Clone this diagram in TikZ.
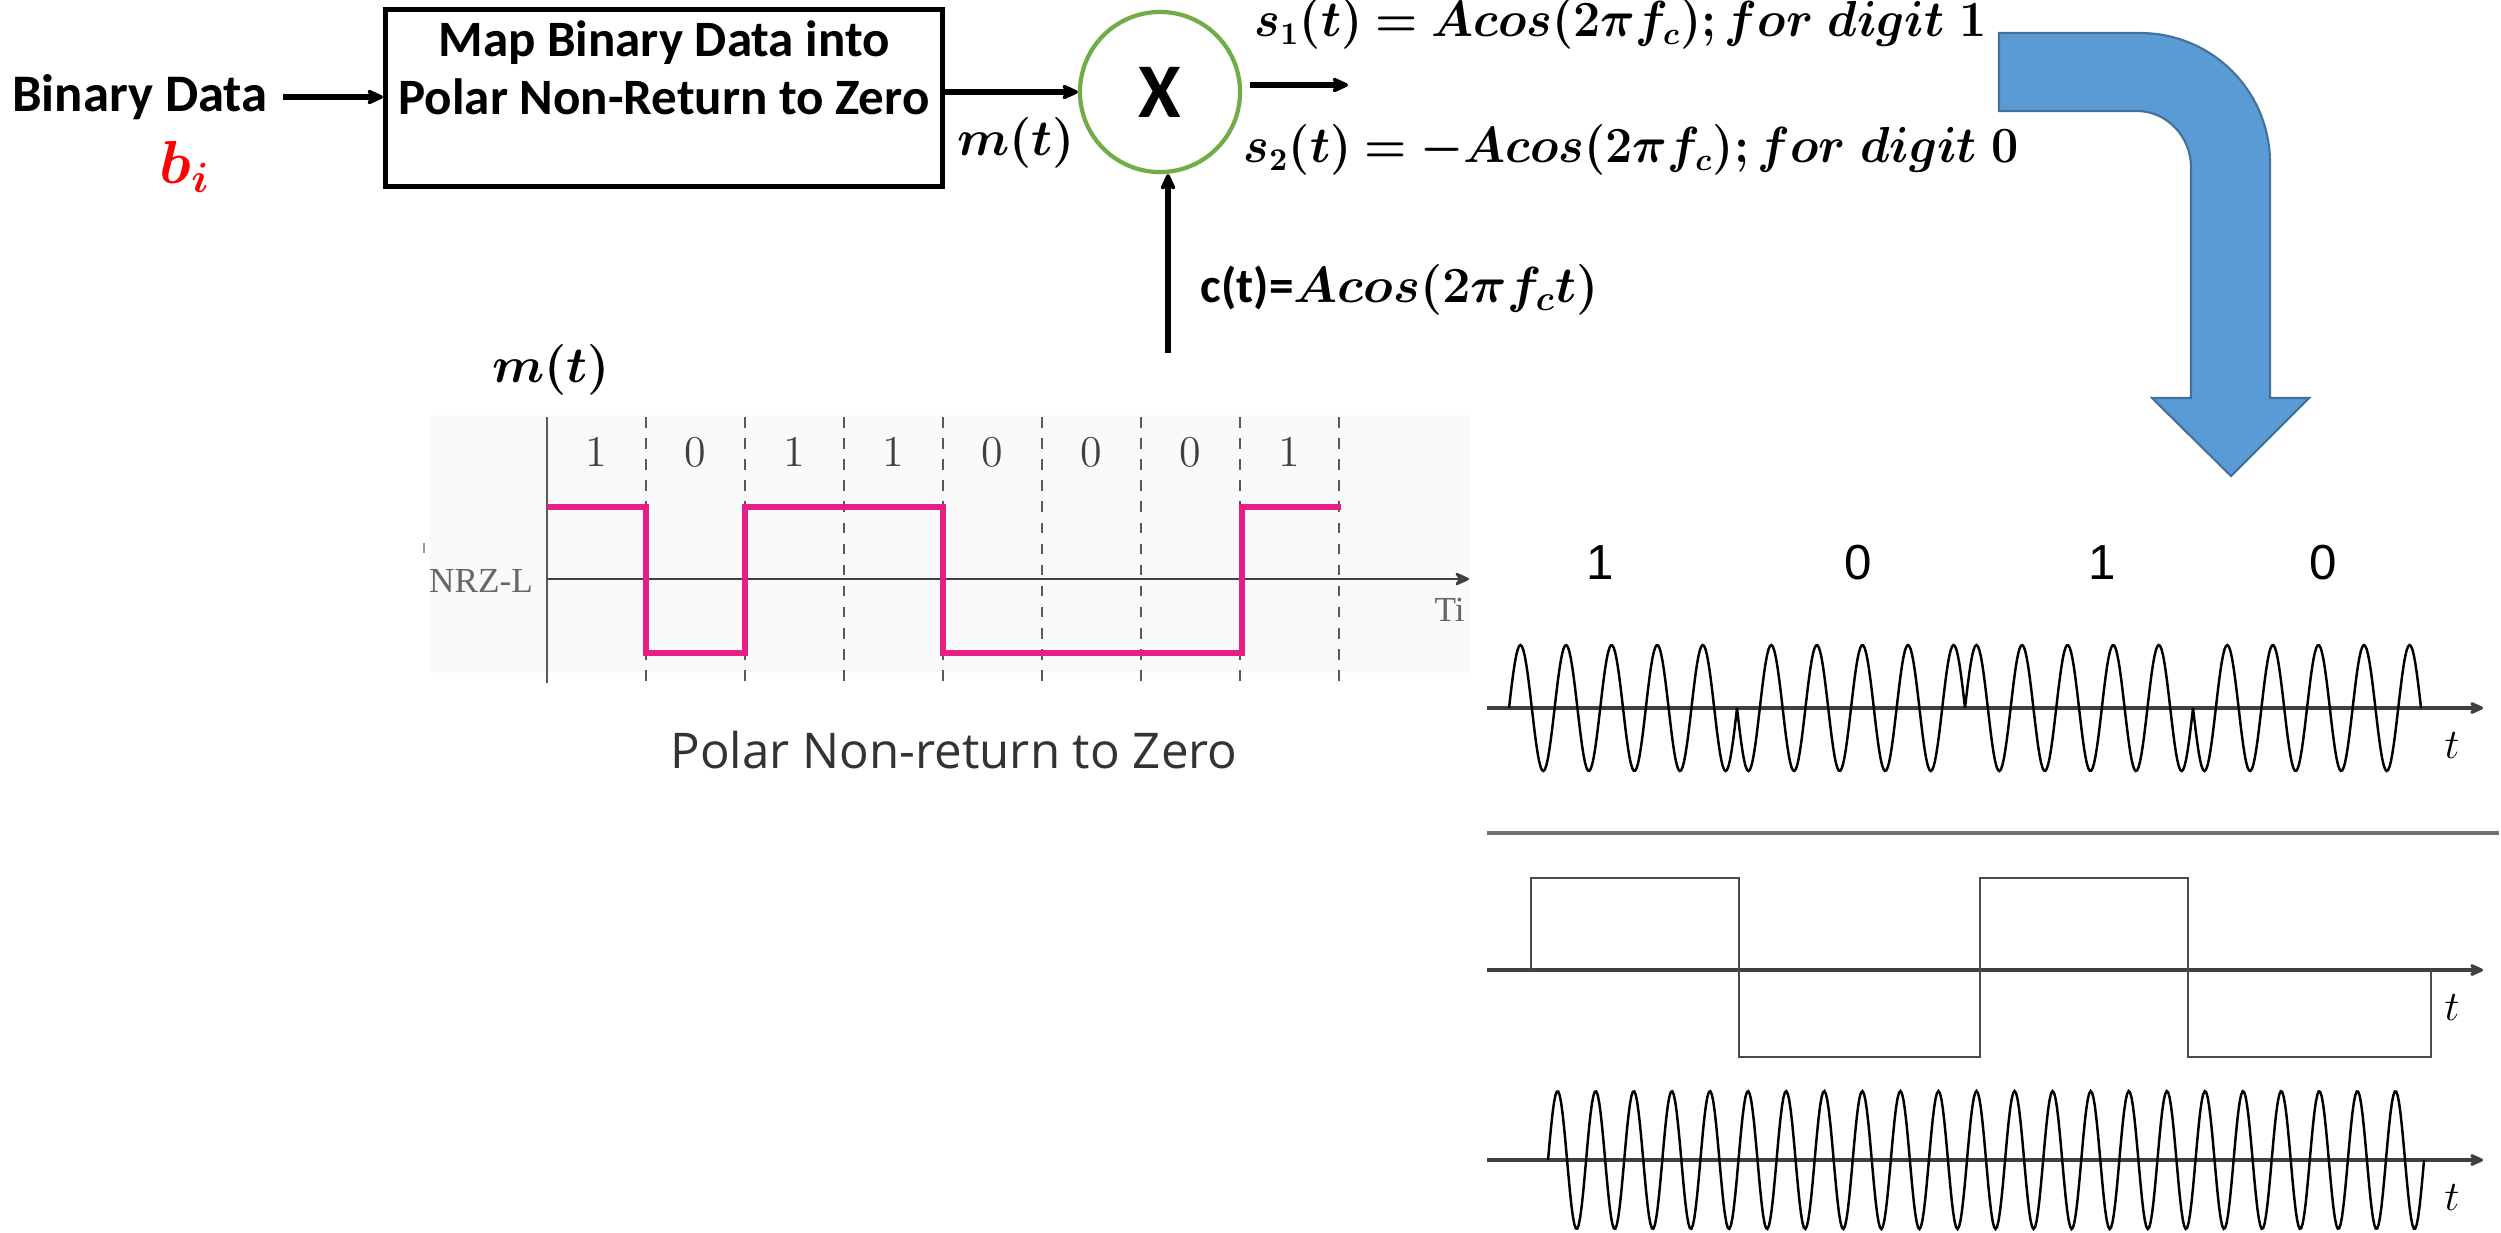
\documentclass[tikz,border=0pt]{standalone}
\usepackage{amsmath}
\usepackage{bm}
\usepackage{fontspec}
\usepackage{xcolor}
\usetikzlibrary{positioning, arrows.meta}

\newfontfamily\calibri{Carlito}
\newfontfamily\arialfont{Liberation Sans}
\newfontfamily\timesfont{Liberation Serif}
\newfontfamily\opensans{Open Sans}

\definecolor{mixgreen}{HTML}{70AD47}
\definecolor{nrzpink}{HTML}{E91E84}
\definecolor{bendblue}{HTML}{5B9BD5}
\definecolor{bendedge}{HTML}{41719C}

\begin{document}
\begin{tikzpicture}[
    x=0.01cm, y=-0.01cm,
    >={Stealth[round, length=5pt, width=4.5pt]},
    every node/.style={inner sep=0pt},
    block/.style={draw, line width=1.4pt, minimum width=5.57cm, minimum height=1.77cm},
    mixer/.style={circle, draw=mixgreen, line width=1.2pt, minimum size=1.6cm,
      font=\calibri\bfseries\fontsize{22}{24}\selectfont},
    heading/.style={font=\calibri\bfseries\fontsize{15}{16}\selectfont, align=center},
    eqn/.style={font=\fontsize{13.5}{16}\selectfont},
    link/.style={-{Stealth[round, length=6pt, width=5.5pt]}, line width=1.6pt},
    axis/.style={->, line width=0.9pt, black!75},
    wave/.style={line width=0.7pt},
    bit/.style={font=\fontsize{12.5}{14}\selectfont, text=black!75},
    pskbit/.style={font=\arialfont\fontsize{14}{16}\selectfont},
    tlabel/.style={font=\fontsize{12}{14}\selectfont},
  ]
  \useasboundingbox (0,0) rectangle (2501,1232);

  % block diagram
  \node[heading] (bin) at (140,97) {Binary Data};
  \node[font=\fontsize{18}{20}\selectfont, text=red] (bi) at (185,167) {$\bm{b_i}$};
  \node[block] (box) at (664,98) {};
  \node[heading, below=0.13cm of box.north, font=\calibri\bfseries\fontsize{14.5}{16.5}\selectfont]
    (boxtxt) {Map Binary Data into\\Polar Non-Return to Zero};
  \node[mixer] (mix) at (1160,92) {X};
  \node[eqn] (mlabel) at (1016,143) {$\bm{m(t)}$};
  \node[eqn, anchor=west, xscale=0.955, transform shape] (sone) at (1254,24)
    {$\bm{s_1(t) = Acos(2\pi f_c); for\ digit\ 1}$};
  \node[eqn, anchor=west, xscale=0.955, transform shape] (stwo) at (1243,150)
    {$\bm{s_2(t) = -Acos(2\pi f_c); for\ digit\ 0}$};
  \node[anchor=west, font=\fontsize{14}{16}\selectfont] (ct) at (1200,290)
    {{\calibri\bfseries c(t)=}$\bm{Acos(2\pi f_c t)}$};
  \coordinate (sout) at (1348,85);
  \coordinate (ctail) at (1168,353);

  \draw[link] ([xshift=0.15cm]bin.east) -- (bin -| box.west);
  \draw[link] (box.east |- mix) -- (mix);
  \draw[link] (ctail) -- (ctail |- mix.south);
  \draw[link] ([xshift=0.08cm]mix.east |- sout) -- (sout);

  % polar NRZ plot
  \fill[black!2] (430,415) rectangle (1469,673);
  \node[eqn] (mplot) at (551,370) {$\bm{m(t)}$};
  \draw[black!65, line width=0.7pt] (547,417) -- (547,683);
  \draw[axis, line width=0.7pt] (547,579) -- (1469,579);
  \foreach \x in {646,745,...,1341}
    \draw[dashed, black!65, line width=0.5pt] (\x,417) -- (\x,683);
  \foreach \b [count=\i from 0] in {1,0,1,1,0,0,0,1}
    \node[bit] (nrzbit\i) at (596+99*\i,452) {\b};
  \draw[nrzpink, line width=1.7pt] (547,507) -- (646,507) -- (646,653) -- (745,653)
    -- (745,507) -- (943,507) -- (943,653) -- (1242,653) -- (1242,507) -- (1341,507);
  \draw[black!40, line width=0.4pt] (424,543) -- (424,553);
  \node[font=\timesfont\fontsize{10}{11}\selectfont, text=black!60] (nrz) at (481,581) {NRZ-L};
  \node[anchor=west, font=\timesfont\fontsize{10}{11}\selectfont, text=black!60] (ti) at (1434,610) {Ti};
  \node[font=\opensans\fontsize{14}{16}\selectfont, text=black!80] (caption) at (954,750)
    {Polar Non-return to Zero};

  % bent arrow
  \filldraw[fill=bendblue, draw=bendedge, line width=0.6pt]
    (1999,33) -- (2140,33) .. controls (2212,33) and (2270,91) .. (2270,163)
    -- (2270,398) -- (2309,398) -- (2231,476) -- (2152,398) -- (2191,398)
    -- (2191,167) .. controls (2191,137) and (2167,111) .. (2137,111)
    -- (1999,111) -- cycle;

  % BPSK signal
  \foreach \b/\x [count=\i] in {1/1600,0/1858,1/2102,0/2323}
    \node[pskbit] (pskbit\i) at (\x,563) {\b};
  \draw[axis] (1487,708) -- (2483,708);
  \foreach \s [count=\k from 0] in {1,-1,1,-1}
    \draw[wave] plot[domain=0:228, samples=160] ({1509+228*\k+\x}, {708-63*\s*sin(\x/228*1800)});
  \node[tlabel] (tone) at (2452,745) {$t$};

  \draw[black!55, line width=1pt] (1487,833) -- (2499,833);

  % bipolar data
  \draw[axis] (1487,970) -- (2483,970);
  \draw[wave, black!70] (1531,970) -- (1531,878) -- (1739,878) -- (1739,1057) -- (1980,1057)
    -- (1980,878) -- (2188,878) -- (2188,1057) -- (2431,1057) -- (2431,970);
  \node[tlabel] (ttwo) at (2452,1007) {$t$};

  % carrier
  \draw[axis] (1487,1160) -- (2483,1160);
  \draw[wave] plot[domain=0:876, samples=600] ({1548+\x}, {1160-69*sin(\x/876*8280)});
  \node[tlabel] (tthree) at (2452,1197) {$t$};

\end{tikzpicture}
\end{document}
